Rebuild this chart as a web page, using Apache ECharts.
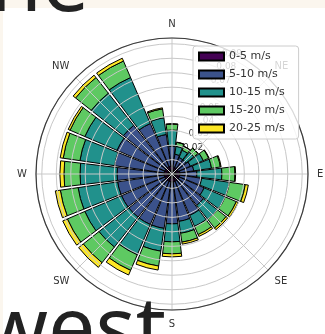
<!DOCTYPE html>
<html>
<head>
<meta charset="utf-8">
<script src="https://cdn.jsdelivr.net/npm/echarts@6/dist/echarts.min.js"></script>
<style>
  html, body { margin: 0; padding: 0; background: #fbf6ee; }
  #chart { width: 325px; height: 334px; }
</style>
</head>
<body>
<div id="chart"></div>
<script>
// wind directions, 15 degree sectors, clockwise from north
const directions = [0, 15, 30, 45, 60, 75, 90, 105, 120, 135, 150, 165,
  180, 195, 210, 225, 240, 255, 270, 285, 300, 315, 330, 345];
const compassLabels = ["N", "NE", "E", "SE", "S", "SW", "W", "NW"];
const speedBins = ["0-5 m/s", "5-10 m/s", "10-15 m/s", "15-20 m/s", "20-25 m/s"];
const binColors = ["#440154", "#3b528b", "#21918c", "#5ec962", "#fde725"];

// frequency per direction for each speed bin (not cumulative)
const freq0to5 = [0.0055, 0.0048, 0.0048, 0.0048, 0.0048, 0.0055, 0.0055, 0.0055, 0.0055, 0.0055, 0.0055, 0.0055,
  0.0055, 0.0055, 0.0055, 0.0055, 0.0055, 0.0055, 0.0055, 0.0055, 0.0055, 0.0055, 0.0055, 0.0055];
const freq5to10 = [0.0138, 0.0090, 0.0076, 0.0076, 0.0090, 0.0097, 0.0117, 0.0152, 0.0187, 0.0221, 0.0256, 0.0276,
  0.0290, 0.0325, 0.0325, 0.0325, 0.0325, 0.0325, 0.0325, 0.0346, 0.0359, 0.0373, 0.0325, 0.0221];
const freq10to15 = [0.0111, 0.0055, 0.0055, 0.0069, 0.0097, 0.0124, 0.0173, 0.0194, 0.0159, 0.0124, 0.0083, 0.0083,
  0.0124, 0.0159, 0.0228, 0.0263, 0.0276, 0.0276, 0.0256, 0.0242, 0.0242, 0.0283, 0.0346, 0.0117];
const freq15to20 = [0.0041, 0.0028, 0.0028, 0.0035, 0.0041, 0.0062, 0.0090, 0.0111, 0.0083, 0.0076, 0.0062, 0.0062,
  0.0083, 0.0104, 0.0117, 0.0138, 0.0131, 0.0124, 0.0111, 0.0117, 0.0111, 0.0138, 0.0124, 0.0062];
const freq20to25 = [0.0003, 0.0002, 0.0002, 0.0002, 0.0003, 0.0005, 0.0005, 0.0021, 0.0014, 0.0014, 0.0014, 0.0014,
  0.0021, 0.0028, 0.0035, 0.0041, 0.0035, 0.0035, 0.0028, 0.0021, 0.0014, 0.0021, 0.0021, 0.0007];
const binValues = [freq0to5, freq5to10, freq10to15, freq15to20, freq20to25];

const radiusMax = 0.094;
const radiusStep = 0.01;

const chart = echarts.init(document.getElementById("chart"), undefined, { renderer: "canvas" });

const center = [172, 174];
const radius = 136;
const font = "DejaVu Sans";

chart.setOption({
  animation: false,
  backgroundColor: "transparent",
  polar: [
    { center: center, radius: radius },
    { center: center, radius: radius },
    { center: center, radius: radius },
  ],
  angleAxis: [
    {
      polarIndex: 0,
      type: "category",
      data: directions,
      startAngle: 97.5,
      clockwise: true,
      axisLine: { show: false },
      axisTick: { show: false },
      axisLabel: { show: false },
      splitLine: { show: false },
    },
    {
      polarIndex: 1,
      type: "value",
      min: 0,
      max: 360,
      interval: 45,
      startAngle: 90,
      clockwise: true,
      z: 5,
      axisLine: { lineStyle: { color: "#3a3a3a", width: 1.2 } },
      axisTick: { show: false },
      axisLabel: {
        margin: 9,
        color: "#333",
        fontSize: 10,
        fontFamily: font,
        formatter: (value) => (value >= 360 ? "" : compassLabels[value / 45]),
      },
      splitLine: { lineStyle: { color: "#c8c8c8", width: 1 } },
    },
    {
      polarIndex: 2,
      type: "value",
      min: 0,
      max: 360,
      startAngle: 67.5,
      show: false,
    },
  ],
  radiusAxis: [
    {
      polarIndex: 0,
      type: "value",
      min: 0,
      max: radiusMax,
      axisLine: { show: false },
      axisTick: { show: false },
      axisLabel: { show: false },
      splitLine: { show: false },
    },
    {
      polarIndex: 1,
      type: "value",
      min: 0,
      max: radiusMax,
      interval: radiusStep,
      z: 5,
      axisLine: { show: false },
      axisTick: { show: false },
      axisLabel: { show: false },
      splitLine: { lineStyle: { color: "#c8c8c8", width: 1 } },
    },
    {
      polarIndex: 2,
      type: "value",
      min: 0,
      max: radiusMax,
      interval: radiusStep,
      z: 0,
      axisLine: { show: false },
      axisTick: { show: false },
      axisLabel: {
        margin: 0,
        align: "left",
        verticalAlign: "middle",
        color: "#333",
        fontSize: 9,
        fontFamily: font,
        formatter: (value) => (value === 0 ? "" : value.toFixed(2)),
      },
      splitLine: { show: false },
    },
  ],
  legend: {
    orient: "vertical",
    left: 193,
    top: 46,
    z: 20,
    padding: [5, 14, 5, 5],
    itemWidth: 25,
    itemHeight: 8,
    itemGap: 7,
    icon: "rect",
    backgroundColor: "rgba(255, 255, 255, 0.8)",
    borderColor: "#cccccc",
    borderWidth: 1,
    borderRadius: 3,
    textStyle: { color: "#333", fontSize: 11, fontFamily: font },
    data: speedBins,
  },
  graphic: [
    {
      type: "rect",
      z: -100,
      shape: { x: 3, y: 8, width: 330, height: 340 },
      style: { fill: "#ffffff" },
    },
    {
      type: "text",
      z: 100,
      x: -10,
      y: -13,
      style: {
        text: "he",
        fill: "#222222",
        font: "84px 'Noto Sans'",
        textVerticalAlign: "middle",
      },
    },
    {
      type: "text",
      z: 100,
      x: -18,
      y: 333,
      style: {
        text: "west",
        fill: "#222222",
        font: "84px 'Noto Sans'",
        textVerticalAlign: "middle",
      },
    },
  ],
  series: binValues.map((values, i) => ({
    name: speedBins[i],
    type: "bar",
    coordinateSystem: "polar",
    polarIndex: 0,
    stack: "total",
    barCategoryGap: "10%",
    itemStyle: {
      color: binColors[i],
      borderColor: "#000000",
      borderWidth: 1,
    },
    data: values,
  })),
});
</script>
</body>
</html>
